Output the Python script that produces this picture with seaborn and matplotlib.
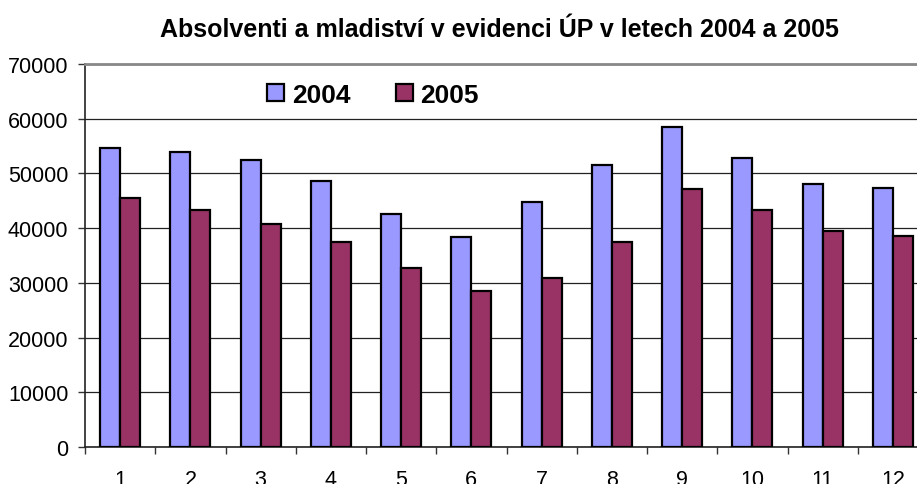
import numpy as np
import pandas as pd
import matplotlib
matplotlib.use('Agg')
import matplotlib.pyplot as plt
import seaborn as sns
from matplotlib.patches import Patch

# data
months = ['1', '2', '3', '4', '5', '6', '7', '8', '9', '10', '11', '12']
values_2004 = [54700, 54000, 52400, 48700, 42500, 38300, 44700, 51500, 58400, 52900, 48000, 47300]
values_2005 = [45500, 43400, 40800, 37500, 32700, 28600, 30900, 37500, 47100, 43300, 39500, 38500]
years = ['2004', '2005']
colors = ['#9999FF', '#993366']

df = pd.DataFrame({
    'mesic': months * 2,
    'pocet': values_2004 + values_2005,
    'rok': [years[0]] * 12 + [years[1]] * 12,
})

sns.set_style('white')
plt.rcParams['font.family'] = ['Liberation Sans', 'DejaVu Sans']
plt.rcParams['text.color'] = 'black'
plt.rcParams['xtick.color'] = 'black'
plt.rcParams['ytick.color'] = 'black'

fig = plt.figure(figsize=(9.17, 4.85), dpi=100)
ax = fig.add_axes([85 / 917, 1 - 448 / 485, 843 / 917, 383 / 485])

sns.barplot(data=df, x='mesic', y='pocet', hue='rok', palette=colors, saturation=1,
            width=0.57, edgecolor='black', linewidth=1.6, ax=ax, legend=False,
            zorder=3)

ax.set_xlim(-0.5, 11.5)
ax.set_ylim(0, 70000)
ax.set_yticks(np.arange(0, 70001, 10000))
ax.set_yticklabels([str(v) for v in range(0, 70001, 10000)], fontsize=15.5)
ax.yaxis.grid(True, color='#222222', linewidth=0.9, zorder=0)
ax.set_axisbelow(True)

ax.set_xticks(range(12))
ax.set_xticklabels(months, fontsize=15.5)
ax.set_xticks(np.arange(-0.5, 12, 1), minor=True)
ax.tick_params(axis='x', which='major', length=0, pad=16)
ax.tick_params(axis='x', which='minor', length=5, width=1, color='#333333', direction='out', bottom=True)
ax.tick_params(axis='y', length=5, width=1, color='#333333', direction='out', left=True, pad=7)
ax.set_xlabel('')
ax.set_ylabel('')

for side in ['left', 'bottom']:
    ax.spines[side].set_color('#222222')
    ax.spines[side].set_linewidth(1.2)
ax.spines['top'].set_color('#888888')
ax.spines['top'].set_linewidth(2)
ax.spines['right'].set_visible(False)

handles = [Patch(facecolor=c, edgecolor='black', linewidth=1.6) for c in colors]
ax.legend(handles, years, loc='center left', bbox_to_anchor=(0.216, 0.92), ncol=2,
          frameon=False, prop={'weight': 'bold', 'size': 19}, handlelength=0.65,
          handleheight=0.65, handletextpad=0.3, columnspacing=1.7, borderpad=0,
          borderaxespad=0)

fig.text(0.545, 1 - 30 / 485, 'Absolventi a mladiství v evidenci ÚP v letech 2004 a 2005',
         ha='center', va='center', fontsize=18, fontweight='bold')

fig.savefig('out.png', dpi=100)
